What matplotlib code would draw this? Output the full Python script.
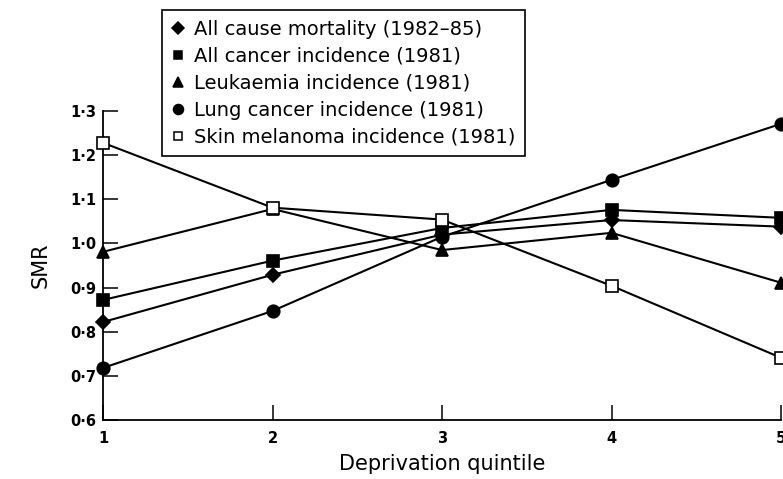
import matplotlib
matplotlib.use("Agg")
import matplotlib.pyplot as plt
from matplotlib.lines import Line2D

# deprivation quintiles on the x axis
quintiles = [1, 2, 3, 4, 5]

# SMR values
all_cause_mortality = [0.822, 0.929, 1.020, 1.053, 1.038]
all_cancer = [0.872, 0.961, 1.035, 1.076, 1.058]
leukaemia = [0.981, 1.078, 0.985, 1.024, 0.911]
lung_cancer = [0.718, 0.847, 1.015, 1.144, 1.271]
skin_melanoma = [1.228, 1.081, 1.054, 0.904, 0.741]

series_labels = [
    "All cause mortality (1982\u201385)",
    "All cancer incidence (1981)",
    "Leukaemia incidence (1981)",
    "Lung cancer incidence (1981)",
    "Skin melanoma incidence (1981)",
]

y_ticks = [0.6, 0.7, 0.8, 0.9, 1.0, 1.1, 1.2, 1.3]
y_tick_labels = ["0\u00b76", "0\u00b77", "0\u00b78", "0\u00b79", "1\u00b70", "1\u00b71", "1\u00b72", "1\u00b73"]

plt.rcParams["font.family"] = ["DejaVu Sans"]

fig = plt.figure(figsize=(7.83, 4.79), dpi=100)
ax = fig.add_axes([103 / 783, 59 / 479, 678 / 783, 309 / 479])

styles = [
    dict(marker="D", ms=7.5, mfc="black"),
    dict(marker="s", ms=8, mfc="black"),
    dict(marker="^", ms=9, mfc="black"),
    dict(marker="o", ms=9, mfc="black"),
    dict(marker="s", ms=8, mfc="white"),
]
all_series = [all_cause_mortality, all_cancer, leukaemia, lung_cancer, skin_melanoma]

for values, st in zip(all_series, styles):
    ax.plot(quintiles, values, color="black", lw=1.5, marker=st["marker"],
            ms=st["ms"], mfc=st["mfc"], mec="black", mew=1.2, clip_on=False, zorder=3)

ax.set_xlim(1, 5)
ax.set_ylim(0.6, 1.3)
ax.set_xticks(quintiles)
ax.set_xticklabels([str(q) for q in quintiles], fontsize=10.5, fontweight="bold")
ax.set_yticks(y_ticks)
ax.set_yticklabels(y_tick_labels, fontsize=10.5, fontweight="bold")

ax.spines["top"].set_visible(False)
ax.spines["right"].set_visible(False)
for side in ["left", "bottom"]:
    ax.spines[side].set_linewidth(1.3)
ax.tick_params(axis="both", direction="in", length=11, width=1.1, colors="black")
ax.tick_params(axis="x", pad=8)
ax.tick_params(axis="y", pad=5)

ax.set_xlabel("Deprivation quintile", fontsize=15, labelpad=6)
ax.set_ylabel("SMR", fontsize=15, labelpad=14)

handles = [
    Line2D([], [], linestyle="none", marker=st["marker"], ms=st["ms"] * 0.8,
           mfc=st["mfc"], mec="black", mew=1.1, color="black")
    for st in styles
]
leg = fig.legend(handles, series_labels, loc="upper left",
                 bbox_to_anchor=(162 / 783, 1 - 10 / 479), fontsize=14,
                 frameon=True, fancybox=False, framealpha=1, edgecolor="black",
                 borderaxespad=0, borderpad=0.5, labelspacing=0.41,
                 handlelength=0.6, handletextpad=0.55)
leg.get_frame().set_linewidth(1.2)

fig.savefig("out.png", dpi=100)
plt.close(fig)
